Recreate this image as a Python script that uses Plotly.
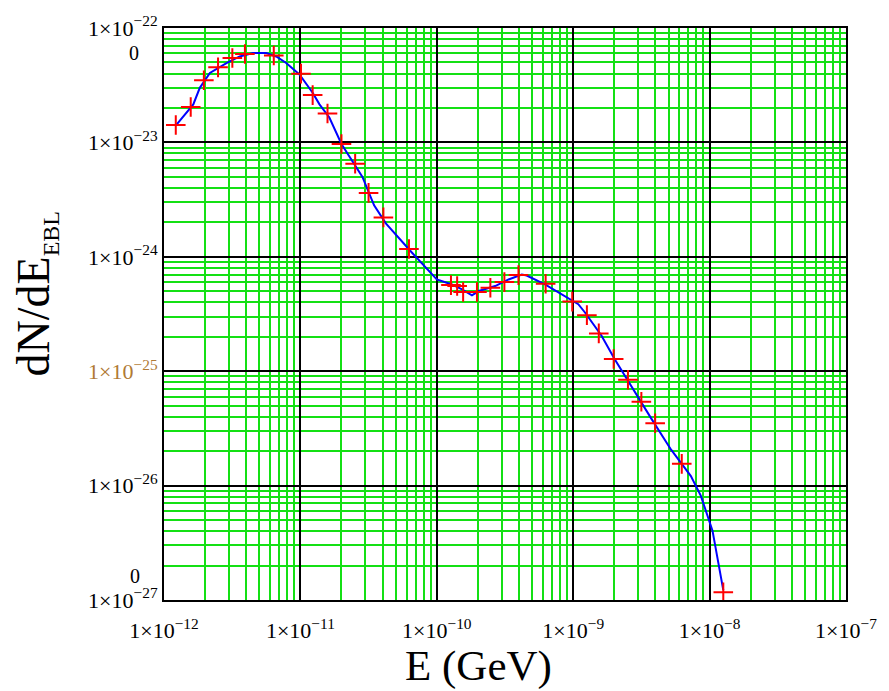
import plotly.graph_objects as go

# Marker data (E in GeV, dN/dE_EBL)
E_pts = [1.22e-12, 1.57e-12, 1.96e-12, 2.49e-12, 3.17e-12, 3.92e-12, 6.38e-12,
         1.01e-11, 1.23e-11, 1.58e-11, 2.00e-11, 2.52e-11, 3.16e-11, 4.06e-11, 6.25e-11,
         1.27e-10, 1.41e-10, 1.56e-10, 1.97e-10, 2.47e-10, 3.13e-10, 3.97e-10, 6.28e-10,
         9.84e-10, 1.26e-9, 1.54e-9, 1.98e-9, 2.52e-9, 3.16e-9, 3.99e-9, 6.25e-9, 1.26e-8]
N_pts = [1.42e-23, 2.04e-23, 3.49e-23, 4.53e-23, 5.46e-23, 5.92e-23, 5.75e-23,
         3.99e-23, 2.59e-23, 1.79e-23, 9.68e-24, 6.50e-24, 3.62e-24, 2.21e-24, 1.17e-24,
         5.66e-25, 5.55e-25, 4.92e-25, 4.92e-25, 5.37e-25, 6.01e-25, 6.92e-25, 5.81e-25,
         4.06e-25, 3.09e-25, 2.14e-25, 1.28e-25, 8.43e-26, 5.41e-26, 3.51e-26, 1.55e-26, 1.17e-27]

# Fitted curve
E_line = [1.24e-12, 1.47e-12, 1.64e-12, 1.83e-12, 2.17e-12, 2.87e-12, 3.59e-12, 4.49e-12,
          5.62e-12, 6.65e-12, 7.87e-12, 9.84e-12, 1.23e-11, 1.38e-11, 1.63e-11, 2.00e-11,
          2.34e-11, 2.85e-11, 3.47e-11, 4.23e-11, 6.61e-11, 1.00e-10, 1.29e-10, 1.53e-10,
          1.81e-10, 2.03e-10, 2.68e-10, 3.36e-10, 4.20e-10, 4.56e-10, 6.21e-10, 8.69e-10,
          1.09e-9, 1.22e-9, 1.61e-9, 2.01e-9, 2.67e-9, 3.73e-9, 5.22e-9, 7.29e-9, 8.63e-9,
          9.95e-9, 1.05e-8, 1.26e-8]
N_line = [1.44e-23, 1.82e-23, 2.15e-23, 3.00e-23, 4.05e-23, 4.94e-23, 5.64e-23, 6.04e-23,
          6.04e-23, 5.64e-23, 4.94e-23, 3.92e-23, 2.72e-23, 2.15e-23, 1.65e-23, 9.68e-24,
          7.18e-24, 4.99e-24, 2.82e-24, 1.96e-24, 1.08e-24, 6.34e-25, 5.73e-25, 5.19e-25,
          4.60e-25, 5.02e-25, 5.55e-25, 6.34e-25, 7.00e-25, 6.86e-25, 5.73e-25, 4.55e-25,
          3.85e-25, 3.26e-25, 2.05e-25, 1.28e-25, 7.29e-26, 3.87e-26, 2.06e-26, 1.21e-26, 8.13e-27,
          4.93e-27, 4.04e-27, 1.22e-27]

x_tickvals = [1e-12, 1e-11, 1e-10, 1e-9, 1e-8, 1e-7]
x_ticktext = ["1×10<sup>−12</sup>", "1×10<sup>−11</sup>", "1×10<sup>−10</sup>",
              "1×10<sup>−9</sup>", "1×10<sup>−8</sup>", "1×10<sup>−7</sup>"]
y_tickvals = [1e-27, 1e-26, 1e-25, 1e-24, 1e-23, 1e-22]
y_ticktext = ["1×10<sup>−27</sup>", "1×10<sup>−26</sup>",
              "<span style='color:#b07a35'>1×10<sup>−25</sup></span>",
              "1×10<sup>−24</sup>", "1×10<sup>−23</sup>", "1×10<sup>−22</sup>"]
x_title = "E (GeV)"
y_title = "dN/dE<sub><span style='font-size:24px'>EBL</span></sub>"

SERIF = "Liberation Serif"
MAJOR = "black"
MINOR = "#14e014"

fig = go.Figure()
fig.add_trace(go.Scatter(x=E_line, y=N_line, mode="lines",
                         line=dict(color="#0000ff", width=2), showlegend=False))
fig.add_trace(go.Scatter(x=E_pts, y=N_pts, mode="markers",
                         marker=dict(symbol="cross-thin", size=14,
                                     line=dict(color="#ff0000", width=2)),
                         showlegend=False))

fig.update_xaxes(
    type="log", range=[-12, -7], tickvals=x_tickvals, ticktext=x_ticktext,
    showline=True, mirror=True, linecolor="black", linewidth=2,
    showgrid=True, gridcolor=MAJOR, gridwidth=2, zeroline=False, ticks="",
    tickfont=dict(family=SERIF, size=22, color="black"), ticklabelstandoff=10,
    minor=dict(dtick="D1", showgrid=True, gridcolor=MINOR, gridwidth=2, ticks=""),
)
fig.update_yaxes(
    type="log", range=[-27, -22], tickvals=y_tickvals, ticktext=y_ticktext,
    showline=True, mirror=True, linecolor="black", linewidth=2,
    showgrid=True, gridcolor=MAJOR, gridwidth=2, zeroline=False, ticks="",
    tickfont=dict(family=SERIF, size=22, color="black"),
    minor=dict(dtick="D1", showgrid=True, gridcolor=MINOR, gridwidth=2, ticks=""),
)

# axis titles
fig.add_annotation(x=0.461, y=0, xref="paper", yref="paper", xanchor="center", yanchor="top",
                   yshift=-40, text=x_title, showarrow=False,
                   font=dict(family=SERIF, size=43, color="black"))
fig.add_annotation(x=-0.187, y=0.535, xref="paper", yref="paper", xanchor="center", yanchor="middle",
                   textangle=-90, text=y_title, showarrow=False,
                   font=dict(family=SERIF, size=46, color="black"))

# stray zero labels
fig.add_annotation(x=0.0, y=0.0, xref="paper", yref="paper", text="0", showarrow=False,
                   xshift=-36, yshift=11, font=dict(family=SERIF, size=20, color="black"))
fig.add_annotation(x=0.0, y=1.0, xref="paper", yref="paper", text="0", showarrow=False,
                   xshift=-37, yshift=-12, font=dict(family=SERIF, size=20, color="black"))

fig.update_layout(
    width=889, height=691,
    margin=dict(l=164, r=40, t=23, b=91),
    paper_bgcolor="white", plot_bgcolor="white",
    font=dict(family=SERIF, color="black"),
)

fig.write_html("out.html")
